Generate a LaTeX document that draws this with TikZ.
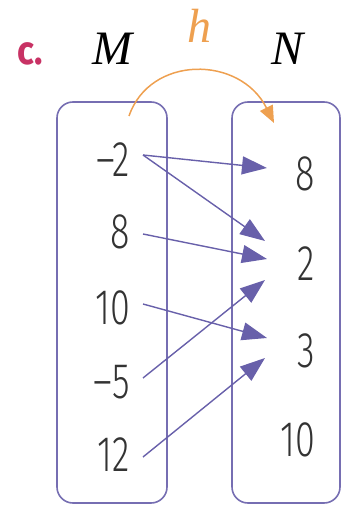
\documentclass[tikz,border=0pt]{standalone}
\usepackage{fontspec}
\setmainfont{Liberation Serif}
\newfontfamily\numfont[FakeStretch=0.72]{Fira Sans Light}
\newfontfamily\labfont[FakeStretch=0.88]{Fira Sans}
\usetikzlibrary{arrows.meta,calc}
\definecolor{boxc}{RGB}{118,110,178}
\definecolor{arrc}{RGB}{104,96,170}
\definecolor{hcol}{RGB}{238,160,80}
\definecolor{ccol}{RGB}{200,50,100}
\tikzset{
  setbox/.style={draw=boxc, line width=1.6pt, rounded corners=16pt},
  num/.style={inner sep=0pt, font=\numfont\fontsize{50}{50}\selectfont, text=black!80},
  maparrow/.style={draw=arrc, line width=1.4pt, -{Triangle[length=25pt,width=18pt]}},
  title/.style={inner sep=0pt, font=\fontsize{48}{48}\selectfont\itshape}
}
\begin{document}
\begin{tikzpicture}[x=1pt,y=-1pt]
\useasboundingbox (0,0) rectangle (343,510);
% boxes
\draw[setbox] (57,102) rectangle (167,503);
\draw[setbox] (232,102) rectangle (340,503);
% titles
\node[inner sep=0pt, anchor=base, font=\labfont\bfseries\fontsize{40}{40}\selectfont, text=ccol] (c) at (30,65) {c.};
\node[title, anchor=base] (M) at (112,65) {M};
\node[title, anchor=base] (N) at (288,65) {N};
\node[title, anchor=base, text=hcol] (h) at (199,43) {h};
% left numbers
\node[num, anchor=east] (m1) at (130,160) {–2};
\node[num, anchor=east] (m2) at (130,232) {8};
\node[num, anchor=east] (m3) at (130,308) {10};
\node[num, anchor=east] (m4) at (130,382) {–5};
\node[num, anchor=east] (m5) at (130,455) {12};
% right numbers
\node[num, anchor=east] (n1) at (315,174) {8};
\node[num, anchor=east] (n2) at (315,264) {2};
\node[num, anchor=east] (n3) at (315,351) {3};
\node[num, anchor=east] (n4) at (315,440) {10};
% arrow start/end points
\coordinate (s1) at (143,155);
\coordinate (s2) at (143,234);
\coordinate (s3) at (143,304);
\coordinate (s4) at (143,378);
\coordinate (s5) at (143,457);
\coordinate (e1) at (267,168);
\coordinate (e2a) at (265,241);
\coordinate (e2b) at (267,259);
\coordinate (e2c) at (265,280);
\coordinate (e3a) at (267,338);
\coordinate (e3b) at (265,358);
\draw[maparrow] (s1) -- (e1);
\draw[maparrow] (s1) -- (e2a);
\draw[maparrow] (s2) -- (e2b);
\draw[maparrow] (s3) -- (e3a);
\draw[maparrow] (s4) -- (e2c);
\draw[maparrow] (s5) -- (e3b);
% h arc
\coordinate (ha) at (129,116);
\coordinate (hb) at (274,123);
\draw[draw=hcol, line width=1.5pt, -{Triangle[length=17pt,width=14pt]}] (ha) .. controls (150,55) and (240,55) .. (hb);
\end{tikzpicture}
\end{document}
